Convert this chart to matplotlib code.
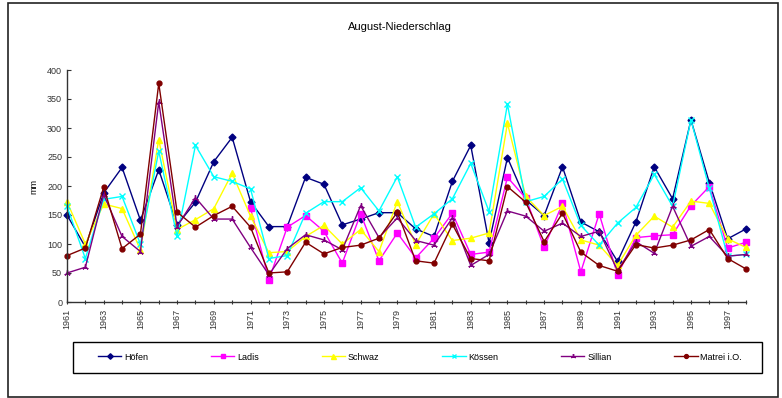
import numpy as np
import matplotlib.pyplot as plt
from matplotlib.patches import Rectangle

plt.rcParams['font.family'] = ['Liberation Sans', 'DejaVu Sans']

years = list(range(1961, 1999))
nan = np.nan

hoefen = [150, 95, 188, 232, 141, 228, 133, 172, 242, 284, 173, 130,
          130, 215, 203, 133, 143, 154, 154, 126, 113, 208, 270, 102, 249,
          176, 149, 233, 138, 121, 70, 138, 233, 178, 314, 206, 109, 126]
ladis = [nan, nan, nan, nan, nan, nan, nan, nan, nan, nan, 162, 38,
         129, 149, 122, 67, 152, 71, 119, 76, 110, 153, 82, 86, 215,
         179, 94, 170, 52, 152, 47, 111, 114, 116, 166, 199, 93, 103]
schwaz = [173, 100, 169, 161, 90, 280, 125, 142, 161, 222, 148, 85,
          87, 113, 132, 100, 125, 87, 173, 99, 152, 106, 110, 119, 308,
          182, 149, 165, 107, 98, 63, 115, 148, 129, 174, 170, 109, 94]
koessen = [165, 75, 177, 182, 100, 260, 113, 270, 216, 208, 195, 75,
           80, 153, 173, 173, 197, 157, 216, 129, 152, 178, 239, 156, 341,
           173, 182, 212, 132, 98, 136, 163, 220, 165, 314, 196, 79, 82]
sillian = [50, 60, 185, 113, 87, 345, 130, 180, 143, 143, 94, 47,
           92, 116, 107, 90, 166, 111, 145, 106, 98, 145, 63, 82, 157,
           148, 122, 136, 113, 122, 54, 104, 84, 165, 96, 113, 79, 82]
matrei = [80, 93, 198, 92, 117, 377, 155, 129, 149, 165, 129, 50,
          52, 103, 83, 94, 98, 110, 155, 71, 67, 134, 75, 71, 199,
          172, 104, 153, 86, 63, 53, 99, 93, 98, 107, 125, 75, 57]

stations = ['Höfen', 'Ladis', 'Schwaz', 'Kössen', 'Sillian', 'Matrei i.O.']
series = [hoefen, ladis, schwaz, koessen, sillian, matrei]
colors = ['#000080', '#FF00FF', '#FFFF00', '#00FFFF', '#800080', '#800000']
markers = ['D', 's', '^', 'x', (3, 2, 0), 'o']
msizes = [3.5, 4, 4.5, 4, 4.5, 3.5]

W, H = 782, 398
fig = plt.figure(figsize=(W / 100, H / 100), dpi=100)
ax = fig.add_axes([67 / W, 1 - 302 / H, (746 - 67) / W, (302 - 70) / H])

handles = []
for name, vals, c, m, ms in zip(stations, series, colors, markers, msizes):
    h, = ax.plot(years, vals, color=c, marker=m, markersize=ms, lw=1.0,
                 markeredgewidth=1.0, label=name, clip_on=False)
    handles.append(h)

ax.set_xlim(1961, 1998)
ax.set_ylim(0, 400)
ax.set_yticks(range(0, 401, 50))
ax.set_xticks(years)
ax.set_xticklabels([str(y) if (y - 1961) % 2 == 0 else '' for y in years],
                   rotation=90, fontsize=6.5)
ax.tick_params(axis='y', labelsize=6.5, length=3, width=0.8, colors='#333333',
               direction='in')
ax.tick_params(axis='x', length=3, width=0.8, direction='inout', colors='#333333')
for s in ['top', 'right']:
    ax.spines[s].set_visible(False)
for s in ['left', 'bottom']:
    ax.spines[s].set_color('#333333')
    ax.spines[s].set_linewidth(1.0)
ax.set_ylabel('mm', fontsize=6.5, labelpad=6)

fig.text(400 / W, 1 - 27 / H, 'August-Niederschlag', ha='center',
         va='center', fontsize=8)

# outer frame and legend box
fig.patches.append(Rectangle((8 / W, 1 / H), 770 / W, 394 / H,
                             transform=fig.transFigure, fill=False,
                             edgecolor='#222222', lw=1.2))
fig.patches.append(Rectangle((73 / W, 1 - 373 / H), (762 - 73) / W, 31 / H,
                             transform=fig.transFigure, fill=False,
                             edgecolor='black', lw=1.0))

fig.legend(handles=handles, loc='center left', mode='expand',
           bbox_to_anchor=(98 / W, 1 - 357 / H, (742 - 98) / W, 0),
           ncol=6, fontsize=6.5, frameon=False, handlelength=2.6,
           borderpad=0, borderaxespad=0, handletextpad=0.3, markerscale=0.8)

fig.savefig('out.png', dpi=100)
